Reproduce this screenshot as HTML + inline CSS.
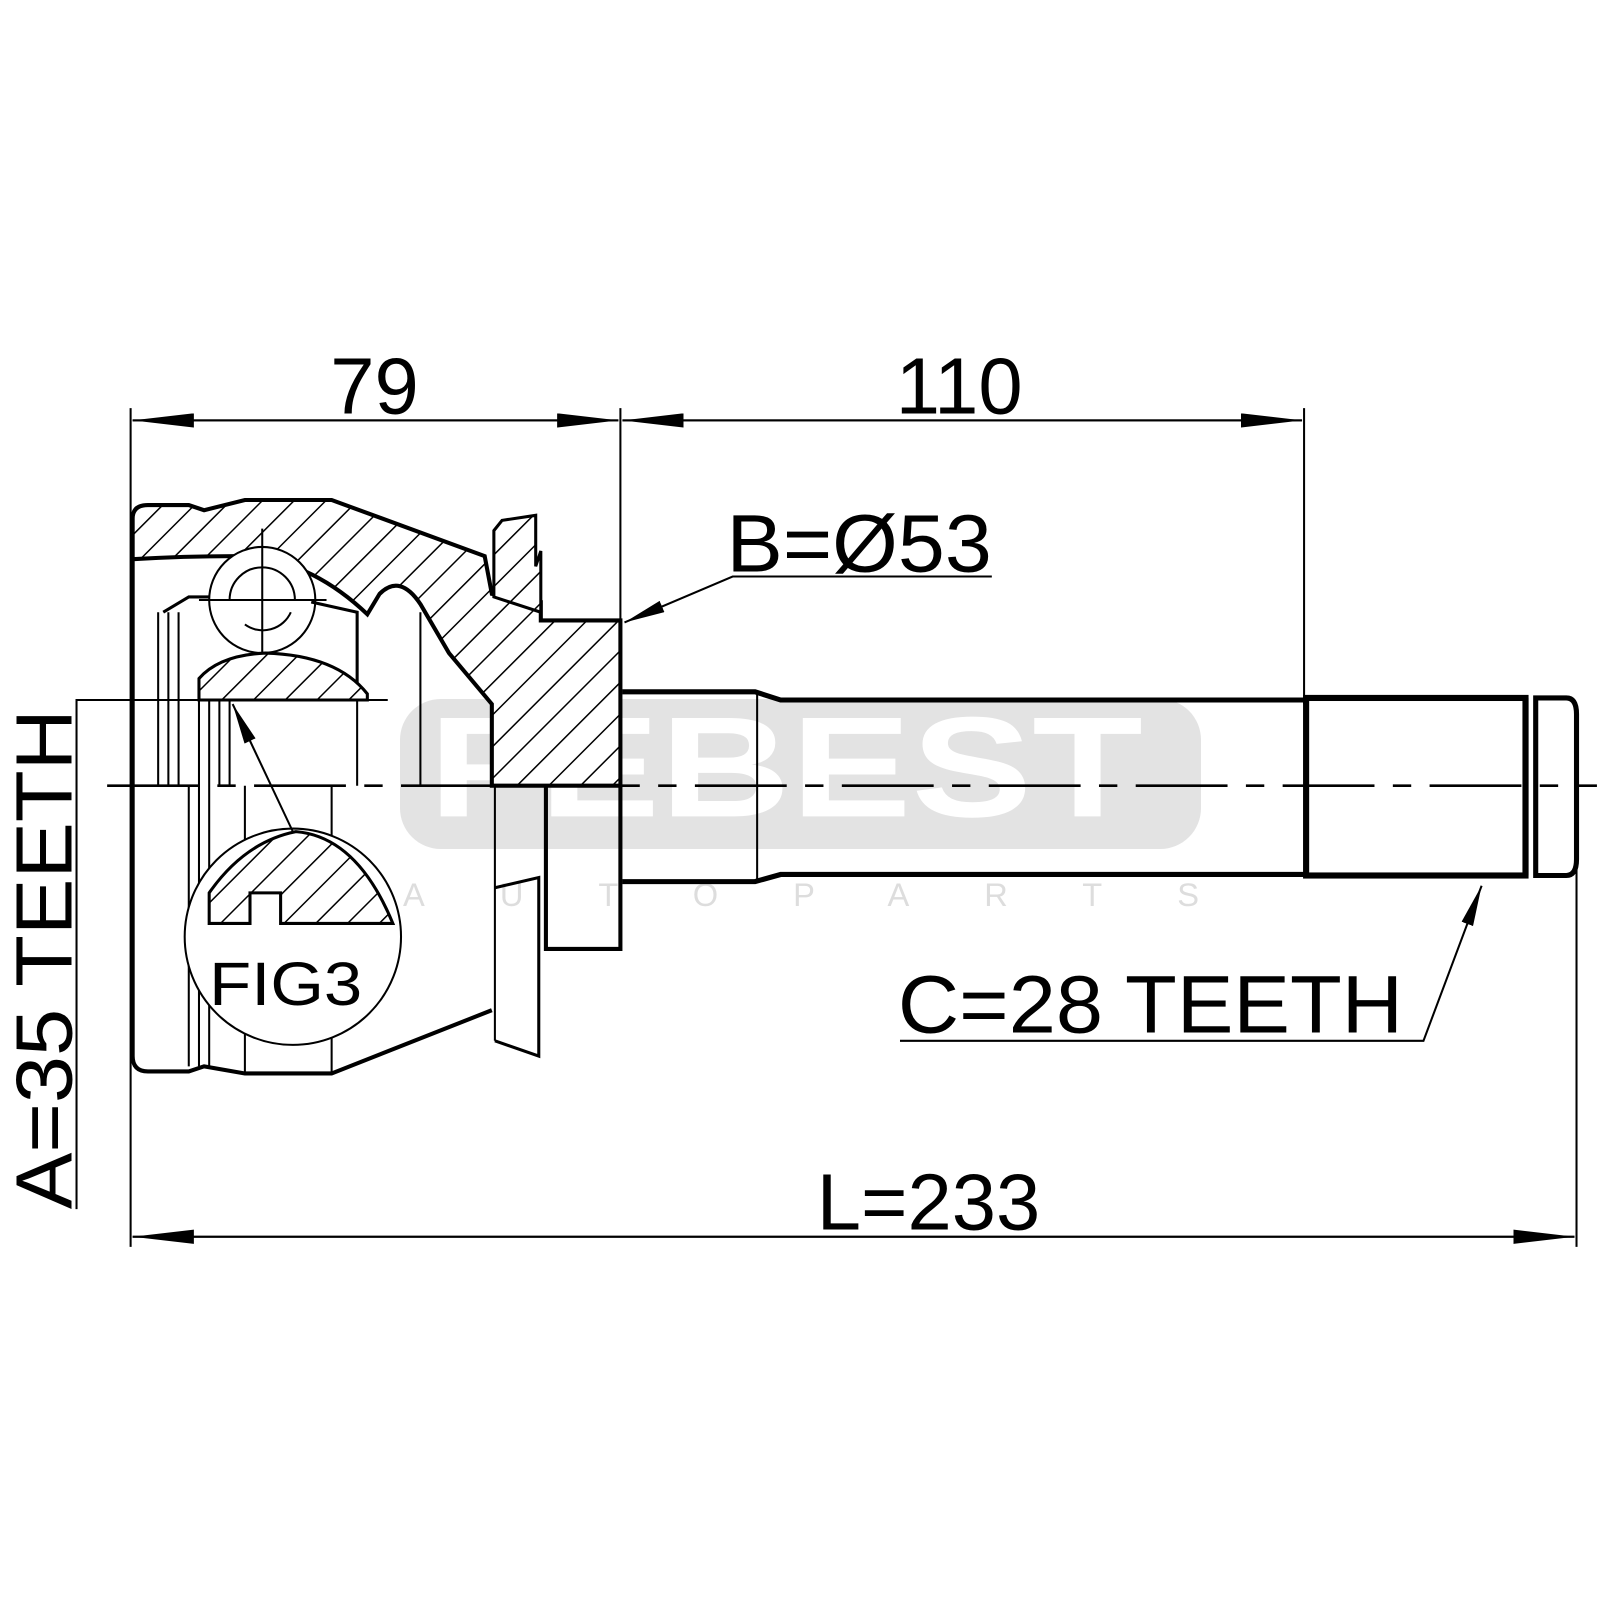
<!DOCTYPE html>
<html><head><style>html,body{margin:0;padding:0;background:#fff}svg{display:block}</style></head>
<body>
<svg width="1600" height="1600" viewBox="0 0 1600 1600" xmlns="http://www.w3.org/2000/svg" font-family="'Liberation Sans', sans-serif">
<defs>
<pattern id="h" patternUnits="userSpaceOnUse" width="22" height="22" patternTransform="rotate(-45)">
<rect width="22" height="22" fill="#fff"/><line x1="0" y1="0" x2="22" y2="0" stroke="#000" stroke-width="3"/>
</pattern>
<marker id="a" markerWidth="60" markerHeight="14" refX="60" refY="7" orient="auto" markerUnits="userSpaceOnUse"><path d="M0,0 L60,7 L0,14 Z" fill="#000"/></marker>
<marker id="b" markerWidth="40" markerHeight="12" refX="40" refY="6" orient="auto" markerUnits="userSpaceOnUse"><path d="M0,0 L40,6 L0,12 Z" fill="#000"/></marker>
</defs>
<g transform="scale(1.0204)">
<rect x="392" y="685" width="785" height="147" rx="40" fill="#e3e3e3"/>
<text x="420" y="800" font-size="140" font-weight="bold" fill="#fff" textLength="700" lengthAdjust="spacingAndGlyphs">FEBEST</text>
<text x="395" y="888" font-size="32" fill="#ddd" textLength="780" lengthAdjust="spacing">AUTOPARTS</text>

<g stroke="#000" fill="none">
<line x1="128" y1="400" x2="128" y2="1222" stroke-width="2"/>
<line x1="608" y1="400" x2="608" y2="612" stroke-width="2"/>
<line x1="1278" y1="400" x2="1278" y2="690" stroke-width="2"/>
<line x1="1545" y1="690" x2="1545" y2="1222" stroke-width="2"/>
<line x1="130" y1="412" x2="606" y2="412" stroke-width="2" marker-end="url(#a)"/>
<line x1="606" y1="412" x2="130" y2="412" stroke-width="2" marker-end="url(#a)"/>
<line x1="610" y1="412" x2="1276" y2="412" stroke-width="2" marker-end="url(#a)"/>
<line x1="1276" y1="412" x2="610" y2="412" stroke-width="2" marker-end="url(#a)"/>
<line x1="130" y1="1212" x2="1543" y2="1212" stroke-width="2" marker-end="url(#a)"/>
<line x1="1543" y1="1212" x2="130" y2="1212" stroke-width="2" marker-end="url(#a)"/>
<polyline points="75,1185 75,686 380,686" stroke-width="2"/>
<polyline points="972,565 718,565 612,610" stroke-width="2" marker-end="url(#b)"/>
<polyline points="882,1020 1395,1020 1452,868" stroke-width="2" marker-end="url(#b)"/>
<line x1="105" y1="770" x2="1565" y2="770" stroke-width="2.5" stroke-dasharray="90,18,18,18"/>

<path d="M130,545 L130,508 Q130,495 145,495 L185,495 L200,500 L240,490 L325,490 L475,545 L482,582 L530,590 L530,608 L608,608 L608,770 L482,770 L482,690 L440,640 L412,592 Q392,562 372,582 L360,602 Q300,545 230,545 Q180,545 130,548 Z" fill="url(#h)" stroke-width="4"/>
<circle cx="257" cy="588" r="52" fill="#fff" stroke-width="2"/>
<path d="M225,588 A32,32 0 0 1 289,588 M240,612 A30,30 0 0 0 285,600" stroke-width="2"/>
<line x1="257" y1="518" x2="257" y2="662" stroke-width="2"/>
<line x1="195" y1="588" x2="320" y2="588" stroke-width="2"/>
<path d="M160,600 L185,585 L205,585 M305,590 L350,600 L350,680" stroke-width="3"/>
<path d="M195,686 L195,665 Q215,642 260,640 Q330,642 360,680 L360,686 Z" fill="url(#h)" stroke-width="3"/>
<path d="M484,520 L492,510 L525,505 L525,555 L530,540 L530,600 L484,585 Z" fill="url(#h)" stroke-width="3"/>
<path d="M130,548 L130,1035 Q130,1050 145,1050 L185,1050 L200,1045 L240,1052 L325,1052 L482,990" stroke-width="4"/>
<g stroke-width="2">
<line x1="155" y1="600" x2="155" y2="770"/><line x1="165" y1="600" x2="165" y2="770"/><line x1="175" y1="600" x2="175" y2="770"/>
<line x1="185" y1="770" x2="185" y2="1045"/><line x1="195" y1="686" x2="195" y2="1045"/><line x1="205" y1="686" x2="205" y2="1045"/>
<line x1="240" y1="770" x2="240" y2="1052"/><line x1="325" y1="770" x2="325" y2="1052"/>
<line x1="215" y1="686" x2="215" y2="770"/><line x1="225" y1="686" x2="225" y2="770"/>
<line x1="350" y1="686" x2="350" y2="770"/><line x1="412" y1="600" x2="412" y2="770"/>
<line x1="485" y1="770" x2="485" y2="1020"/>
</g>
<path d="M485,1020 L528,1035 L528,860 L485,870" stroke-width="3"/>
<path d="M535,770 L535,930 L608,930 L608,770" stroke-width="4"/>
<circle cx="287" cy="918" r="106" fill="#fff" stroke-width="2"/>
<path d="M205,875 Q240,825 290,815 Q350,820 385,905 L275,905 L275,875 L245,875 L245,905 L205,905 Z" fill="url(#h)" stroke-width="3"/>
<line x1="287" y1="815" x2="228" y2="690" stroke-width="2" marker-end="url(#b)"/>

<path d="M610,678 L740,678 L765,686 L1280,686 L1280,857 L765,857 L740,864 L610,864" stroke-width="5"/>
<line x1="742" y1="678" x2="742" y2="864" stroke-width="2"/>
<rect x="1280" y="684" width="215" height="174" stroke-width="6"/>
<line x1="1497" y1="684" x2="1497" y2="858" stroke-width="2"/>
<path d="M1505,684 L1535,684 Q1545,684 1545,700 L1545,842 Q1545,858 1535,858 L1505,858 Z" stroke-width="5"/>
</g>

<g font-size="78" fill="#000">
<text x="367" y="405" text-anchor="middle">79</text>
<text x="940" y="405" text-anchor="middle">110</text>
<text x="712" y="560" font-size="80" textLength="260" lengthAdjust="spacingAndGlyphs">B=Ø53</text>
<text x="880" y="1012" font-size="80" textLength="495" lengthAdjust="spacingAndGlyphs">C=28 TEETH</text>
<text x="910" y="1205" text-anchor="middle">L=233</text>
<text transform="translate(70,940) rotate(-90)" text-anchor="middle" textLength="490" lengthAdjust="spacingAndGlyphs">A=35 TEETH</text>
</g>
<text x="205" y="985" font-size="60" textLength="150" lengthAdjust="spacingAndGlyphs">FIG3</text>
</g>
</svg>
</body></html>
